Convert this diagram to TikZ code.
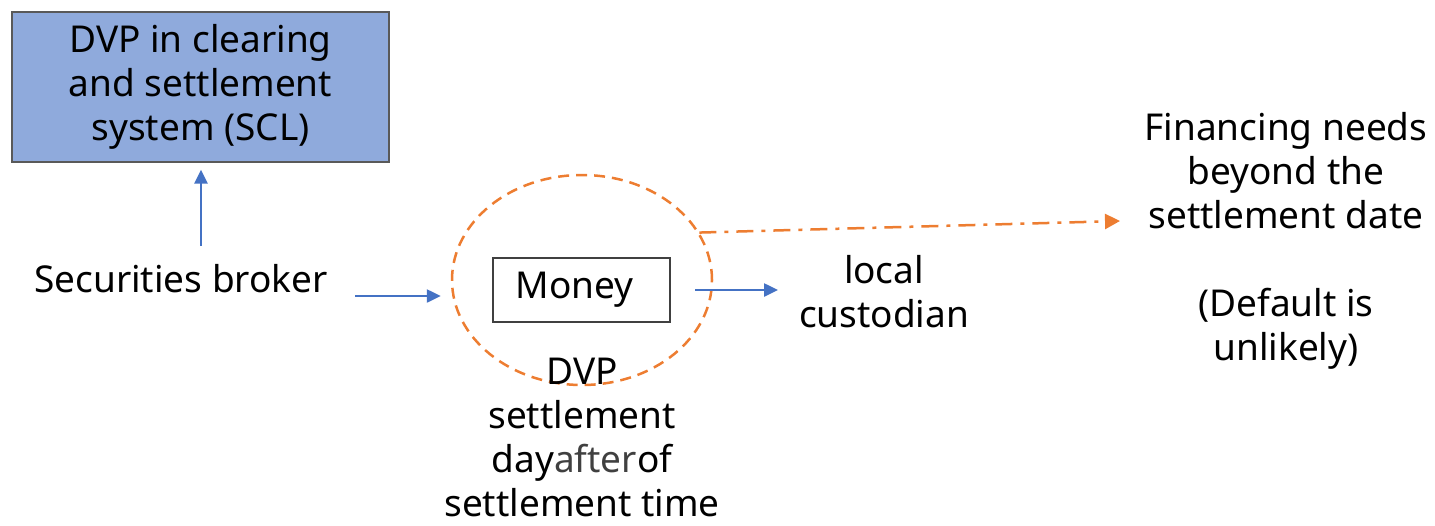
\documentclass[tikz,border=0pt]{standalone}
\usepackage{fontspec}
\setmainfont{Noto Sans}
\usetikzlibrary{shapes.geometric,arrows.meta}
\definecolor{boxblue}{HTML}{8FAADC}
\definecolor{arrowblue}{HTML}{4472C4}
\definecolor{accent}{HTML}{ED7D31}
\definecolor{softgray}{HTML}{404040}
\tikzset{
  label/.style={align=center, font=\fontsize{37}{44}\selectfont, inner sep=0pt},
  barrow/.style={draw=arrowblue, line width=2.5pt, -{Triangle[length=14pt,width=13pt]}},
  oarrow/.style={draw=accent, line width=2.5pt, dash pattern=on 17pt off 8pt on 4pt off 8pt,
                 -{Triangle[length=15pt,width=15pt]}},
}
\begin{document}
\begin{tikzpicture}[x=1pt,y=-1pt]
\useasboundingbox (0,0) rectangle (1435,525);

% clearing system box
\node[draw=black!65, line width=1.2pt, fill=boxblue, minimum width=377pt, minimum height=150pt,
      label, inner sep=0pt] (scl) at (200.5,87) {DVP in clearing\\and settlement\\system (SCL)};

% broker
\node[label] (broker) at (181,279) {Securities broker};
\coordinate (upstart) at (201,246);
\draw[barrow] (upstart) -- (upstart |- scl.south) [shorten >=7pt];

% dashed settlement ellipse and the money box
\node[ellipse, draw=accent, line width=2.5pt, dash pattern=on 11pt off 7pt,
      minimum width=260pt, minimum height=210pt] (circ) at (582,280) {};
\node[draw=black!75, line width=1.2pt, minimum width=177pt, minimum height=64pt,
      font=\fontsize{37}{44}\selectfont, inner sep=0pt] (money) at (581.5,290) {\hspace*{-14pt}Money};

\coordinate (brokerout) at (355,296);
\draw[barrow] (brokerout) -- (443,296 -| circ.west) [shorten >=10pt];

% custodian
\node[label] (cust) at (884,292) {local\\custodian};
\coordinate (moneyout) at (695,290);
\coordinate (custin) at (778,290);
\draw[barrow] (moneyout) -- (custin);

% financing needs
\node[label] (fin) at (1286,241) {Financing needs\\beyond the\\settlement date\\[44pt](Default is\\unlikely)};
\coordinate (finin) at (1120,221);
\draw[oarrow] (circ.22) -- (finin);

% settlement timing
\node[label] (dvp) at (582,437) {DVP\\settlement\\day{\color{softgray}after}of\\settlement time};

\end{tikzpicture}
\end{document}
